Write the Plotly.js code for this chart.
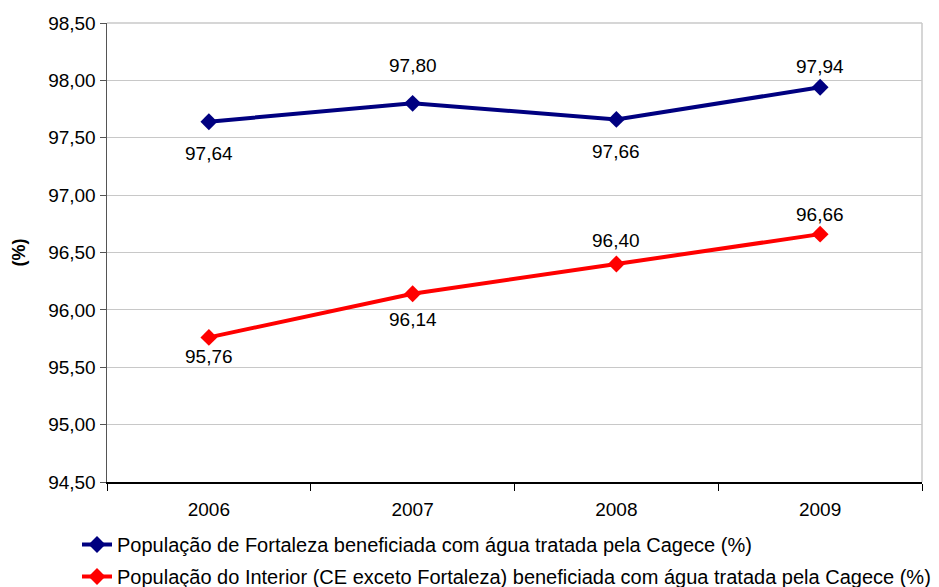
<!DOCTYPE html>
<html>
<head>
<meta charset="utf-8">
<script src="https://cdn.plot.ly/plotly-3.0.1.min.js"></script>
<style>html,body{margin:0;padding:0;background:#fff;}#chart{width:939px;height:587px;}</style>
</head>
<body>
<div id="chart"></div>
<script>
const years = ['2006', '2007', '2008', '2009'];
const fortaleza = [97.64, 97.80, 97.66, 97.94];
const interior = [95.76, 96.14, 96.40, 96.66];
const fortalezaName = 'População de Fortaleza beneficiada com água tratada pela Cagece (%)';
const interiorName = 'População do Interior (CE exceto Fortaleza) beneficiada com água tratada pela Cagece (%)';
const yTicks = [94.5, 95, 95.5, 96, 96.5, 97, 97.5, 98, 98.5];

// label placement style (pixel offsets from the point)
const fortalezaLabelShift = [-32, 38, -32, 21];
const interiorLabelShift = [-19, -26, 23, 20];

const FONT = 'Arial, "Liberation Sans", sans-serif';

function fmt(v) { return v.toFixed(2).replace('.', ','); }

const traces = [
  {x: years, y: fortaleza, name: fortalezaName, type: 'scatter', mode: 'lines+markers',
   line: {color: '#000080', width: 4}, marker: {symbol: 'diamond', size: 13, color: '#000080'},
   legendgroup: 'a', hoverinfo: 'skip'},
  {x: years, y: interior, name: interiorName, type: 'scatter', mode: 'lines+markers',
   line: {color: '#ff0000', width: 4}, marker: {symbol: 'diamond', size: 13, color: '#ff0000'},
   legendgroup: 'b', hoverinfo: 'skip'}
];

const annotations = [];
function addLabels(xs, ys, shifts) {
  xs.forEach((x, i) => {
    annotations.push({x: i, y: ys[i], xref: 'x', yref: 'y', text: fmt(ys[i]), showarrow: false,
      yshift: shifts[i], font: {family: FONT, size: 19, color: '#000'}});
  });
}
addLabels(years, fortaleza, fortalezaLabelShift);
addLabels(years, interior, interiorLabelShift);

annotations.push({text: '<b>(%)</b>', xref: 'paper', yref: 'paper', x: -0.108, y: 0.5, xanchor: 'center', yanchor: 'middle',
  textangle: -90, showarrow: false, font: {family: FONT, size: 18, color: '#000'}});

const layout = {
  width: 939, height: 587,
  margin: {l: 107, r: 17, t: 23, b: 105, autoexpand: false},
  paper_bgcolor: '#fff', plot_bgcolor: '#fff',
  separators: ',.',
  font: {family: FONT, size: 19, color: '#000'},
  showlegend: true,
  legend: {x: 77/939, xref: 'container', xanchor: 'left', y: 62/587, yref: 'container', yanchor: 'top',
    orientation: 'v', traceorder: 'grouped', tracegroupgap: 3, font: {family: FONT, size: 20, color: '#000'},
    bgcolor: 'rgba(0,0,0,0)', itemwidth: 30},
  xaxis: {type: 'category', range: [-0.5, 3.5], tickson: 'boundaries', ticks: 'outside', ticklen: 7,
    tickcolor: '#000', showline: true, linecolor: '#000', linewidth: 1.5, showgrid: false, zeroline: false,
    tickfont: {family: FONT, size: 19}, tickangle: 0, automargin: false, ticklabelstandoff: 10},
  yaxis: {range: [94.5, 98.5], tickmode: 'array', tickvals: yTicks, tickformat: '.2f', ticks: 'outside', ticklen: 6,
    tickcolor: '#555', showline: true, linecolor: '#555', linewidth: 1.5, showgrid: true, gridcolor: '#c8c8c8', gridwidth: 1,
    zeroline: false, tickfont: {family: FONT, size: 19}, automargin: false},
  shapes: [
    {type: 'line', xref: 'paper', yref: 'paper', x0: 0, x1: 1, y0: 1, y1: 1, line: {color: '#c8c8c8', width: 1.5}},
    {type: 'line', xref: 'paper', yref: 'paper', x0: 1, x1: 1, y0: 0, y1: 1, line: {color: '#c8c8c8', width: 1.5}}
  ],
  annotations: annotations
};

Plotly.newPlot('chart', traces, layout, {displayModeBar: false, staticPlot: true});
</script>
</body>
</html>
